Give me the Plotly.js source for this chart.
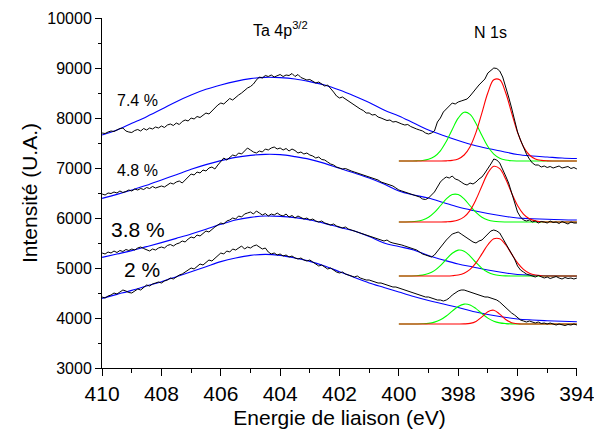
<!DOCTYPE html>
<html>
<head>
<meta charset="utf-8">
<script src="https://cdn.plot.ly/plotly-3.0.1.min.js"></script>
<style>html,body{margin:0;padding:0;background:#fff;}#chart{width:594px;height:435px;}</style>
</head>
<body>
<div id="chart"></div>
<script>
// Energy sampling grid of the measured spectra (410 -> 394 eV, 0.1 eV step)
const energy = [];
for (let i = 0; i <= 160; i++) energy.push(+(410 - 0.1 * i).toFixed(1));

// Measured spectra (black), one value per 0.1 eV
const spec74 = [
7700,7690,7720,7740,7730,7760,7790,7800,7740,7720,
7710,7750,7770,7740,7790,7760,7800,7780,7820,7800,
7840,7810,7860,7880,7850,7900,7870,7930,7960,7940,
8000,7980,8030,8010,8060,8100,8080,8150,8200,8260,
8300,8280,8340,8390,8360,8420,8460,8500,8560,8600,
8630,8680,8760,8820,8800,8850,8830,8860,8820,8840,
8870,8830,8860,8850,8890,8830,8870,8810,8790,8760,
8770,8730,8700,8720,8680,8640,8660,8600,8520,8440,
8400,8420,8380,8330,8300,8260,8220,8180,8150,8100,
8100,8060,8070,8020,8000,7980,7950,7960,7920,7930,
7900,7880,7860,7870,7830,7800,7780,7760,7740,7700,
7680,7700,7740,7920,8000,8120,8180,8240,8300,8280,
8320,8340,8360,8380,8440,8520,8600,8660,8720,8780,
8900,8960,9000,8990,8940,8820,8640,8420,8200,7960,
7720,7560,7400,7280,7180,7100,7060,7060,7020,7040,
7010,7030,7000,7020,7040,7000,7010,7030,6990,7010,
6980];
const spec48 = [
6480,6460,6500,6490,6520,6500,6540,6510,6530,6560,
6540,6580,6560,6590,6570,6610,6590,6630,6600,6620,
6640,6620,6660,6700,6680,6720,6740,6700,6760,6820,
6880,6860,6920,6900,6960,6940,7000,7020,6980,7060,
7120,7200,7160,7220,7260,7240,7300,7280,7340,7400,
7360,7320,7300,7340,7320,7380,7360,7400,7420,7380,
7400,7360,7390,7340,7380,7350,7300,7320,7280,7300,
7260,7240,7200,7220,7170,7160,7120,7080,7060,7020,
7000,6980,6990,6960,6940,6920,6900,6880,6860,6840,
6820,6800,6780,6760,6720,6700,6680,6660,6640,6600,
6560,6540,6520,6500,6480,6460,6440,6420,6380,6370,
6400,6460,6520,6620,6720,6780,6820,6800,6840,6780,
6760,6720,6680,6660,6700,6680,6720,6780,6820,6900,
6980,7080,7180,7160,7100,6980,6840,6700,6500,6280,
6120,6020,5960,5940,5960,5920,5940,5900,5930,5920,
5900,5940,5910,5920,5890,5930,5910,5880,5920,5900,
5900];
const spec38 = [
5300,5280,5320,5300,5340,5310,5350,5330,5370,5350,
5380,5360,5400,5420,5390,5370,5340,5380,5360,5400,
5420,5400,5450,5470,5440,5480,5500,5540,5520,5580,
5620,5600,5660,5640,5700,5740,5720,5780,5820,5860,
5900,5880,5940,5960,6000,5980,6040,6020,6080,6100,
6120,6080,6140,6100,6060,6090,6040,6080,6060,6100,
6060,6040,6080,6020,6050,6000,6040,6010,5980,6000,
5960,5980,5940,5920,5940,5900,5880,5860,5880,5840,
5820,5800,5820,5780,5760,5740,5720,5700,5680,5660,
5640,5620,5600,5580,5560,5540,5560,5520,5500,5490,
5480,5460,5440,5420,5400,5380,5360,5320,5280,5260,
5240,5220,5260,5340,5420,5500,5560,5620,5680,5700,
5720,5680,5640,5600,5560,5520,5500,5540,5560,5620,
5680,5740,5760,5740,5700,5600,5500,5400,5300,5180,
5040,4960,4920,4880,4860,4840,4820,4850,4820,4800,
4820,4790,4810,4830,4800,4780,4810,4790,4800,4780,
4800];
const spec20 = [
4420,4400,4440,4460,4500,4480,4520,4560,4540,4510,
4500,4540,4580,4560,4620,4660,4640,4680,4700,4720,
4700,4740,4760,4800,4780,4820,4860,4880,4920,4960,
5000,4980,5040,5080,5060,5120,5160,5140,5200,5240,
5300,5280,5340,5320,5380,5360,5400,5440,5380,5420,
5400,5440,5460,5420,5380,5400,5320,5280,5300,5260,
5280,5240,5260,5220,5240,5200,5180,5200,5160,5140,
5160,5120,5080,5040,5060,5020,4980,5000,4960,4920,
4900,4920,4880,4860,4840,4820,4840,4800,4780,4760,
4760,4740,4720,4700,4700,4680,4660,4640,4620,4620,
4600,4580,4560,4540,4520,4500,4480,4460,4440,4420,
4420,4400,4380,4360,4360,4340,4360,4400,4460,4500,
4540,4560,4560,4540,4520,4500,4480,4460,4440,4420,
4420,4400,4380,4360,4320,4260,4200,4140,4100,4060,
4000,3960,3940,3920,3940,3920,3900,3920,3890,3900,
3880,3900,3880,3860,3880,3870,3850,3870,3860,3880,
3860];

// Ta 4p3/2 fitted envelopes (blue), 0.5 eV step
const fitEnergy = [410,409.5,409,408.5,408,407.5,407,406.5,406,405.5,405,404.5,404,403.5,403,402.5,402,401.5,401,400.5,400,399.5,399,398.5,398,397.5,397,396.5,396,395.5,395,394.5,394];
const fit74 = [7660,7760,7893,8027,8173,8327,8460,8573,8660,8733,8787,8813,8807,8780,8727,8660,8560,8440,8310,8160,8040,7900,7760,7650,7550,7460,7390,7330,7270,7240,7220,7200,7190];
const fit48 = [6393,6473,6560,6653,6760,6867,6973,7067,7147,7213,7253,7273,7267,7227,7173,7093,6993,6900,6800,6680,6540,6460,6400,6310,6220,6150,6090,6040,6000,5985,5975,5965,5960];
const fit38 = [5213,5280,5347,5427,5507,5593,5680,5773,5873,5960,6013,6040,6033,6007,5960,5893,5813,5740,5630,5500,5430,5360,5250,5160,5080,5020,4960,4910,4870,4855,4845,4840,4838];
const fit20 = [4393,4473,4553,4640,4727,4827,4927,5027,5127,5200,5253,5273,5253,5200,5133,5040,4927,4810,4700,4610,4520,4430,4350,4280,4210,4130,4070,4020,3980,3960,3945,3935,3925];

// N 1s component peaks (green / red), 0.2 eV step
const peakEnergy = [400,399.8,399.6,399.4,399.2,399,398.8,398.6,398.4,398.2,398,397.8,397.6,397.4,397.2,397,396.8,396.6,396.4,396.2,396,395.8,395.6,395.4,395.2,395,394.8,394.6,394.4,394.2,394];
const green74 = [7140,7140,7141,7143,7150,7173,7230,7344,7532,7771,7996,8115,8073,7892,7649,7429,7278,7196,7159,7145,7141,7140,7140,7140,7140,7140,7140,7140,7140,7140,7140];
const red74   = [7140,7140,7140,7140,7140,7140,7140,7140,7143,7153,7182,7260,7426,7713,8104,8506,8764,8764,8506,8104,7713,7426,7260,7182,7153,7143,7140,7140,7140,7140,7140];
const green48 = [5920,5921,5924,5934,5961,6016,6113,6245,6381,6468,6468,6381,6245,6113,6016,5961,5934,5924,5921,5920,5920,5920,5920,5920,5920,5920,5920,5920,5920,5920,5920];
const red48   = [5920,5920,5920,5920,5920,5920,5920,5920,5923,5932,5958,6022,6153,6368,6641,6898,7034,6986,6779,6501,6250,6078,5984,5942,5926,5921,5920,5920,5920,5920,5920];
const green38 = [4840,4840,4841,4845,4858,4888,4948,5048,5175,5294,5357,5335,5239,5110,4993,4913,4869,4850,4843,4841,4840,4840,4840,4840,4840,4840,4840,4840,4840,4840,4840];
const red38   = [4840,4840,4840,4840,4840,4840,4840,4840,4841,4846,4859,4895,4971,5102,5282,5465,5584,5584,5465,5282,5102,4971,4895,4859,4846,4841,4840,4840,4840,4840,4840];
const green20 = [3880,3880,3880,3881,3884,3893,3917,3963,4040,4138,4229,4278,4261,4187,4088,3998,3936,3903,3888,3882,3880,3880,3880,3880,3880,3880,3880,3880,3880,3880,3880];
const red20   = [3880,3880,3880,3880,3880,3880,3880,3880,3880,3880,3880,3882,3892,3932,4022,4127,4156,4078,3971,3907,3885,3881,3880,3880,3880,3880,3880,3880,3880,3880,3880];

// Labels
const seriesLabels = ['7.4 %', '4.8 %', '3.8 %', '2 %'];
const labelX = [408.8, 408.8, 408.8, 408.65];
const labelY = [8360, 6960, 5780, 4980];
const labelSize = [16, 16, 21, 21];
const xTickVals = [410,408,406,404,402,400,398,396,394];
const yTickVals = [3000,4000,5000,6000,7000,8000,9000,10000];

const FONT = 'Liberation Sans, Arial, sans-serif';
const traces = [];
const specs = [spec74, spec48, spec38, spec20];
const fits = [fit74, fit48, fit38, fit20];
const greens = [green74, green48, green38, green20];
const reds = [red74, red48, red38, red20];
for (let k = 0; k < 4; k++) {
  traces.push({x: fitEnergy, y: fits[k], mode: 'lines', line: {color: '#0000ff', width: 1.1, shape: 'spline'}, hoverinfo: 'skip'});
  traces.push({x: peakEnergy, y: greens[k], mode: 'lines', line: {color: '#00ff00', width: 1.1, shape: 'spline'}, hoverinfo: 'skip'});
  traces.push({x: peakEnergy, y: reds[k], mode: 'lines', line: {color: '#ff0000', width: 1.1, shape: 'spline'}, hoverinfo: 'skip'});
  traces.push({x: energy, y: specs[k], mode: 'lines', line: {color: '#000000', width: 1}, hoverinfo: 'skip'});
}

const annotations = seriesLabels.map((t, i) => ({
  x: labelX[i], y: labelY[i], text: t, showarrow: false, xanchor: 'center', yanchor: 'middle',
  font: {family: FONT, size: labelSize[i], color: '#000'}
}));
annotations.push({x: 404.0, y: 9790, text: 'Ta 4p<sup>3/2</sup>', showarrow: false, xanchor: 'center', yanchor: 'middle', font: {family: FONT, size: 16, color: '#000'}});
annotations.push({x: 396.9, y: 9720, text: 'N 1s', showarrow: false, xanchor: 'center', yanchor: 'middle', font: {family: FONT, size: 16, color: '#000'}});

const layout = {
  width: 594, height: 435,
  margin: {l: 102, r: 17, t: 18, b: 67, pad: 0},
  paper_bgcolor: '#fff', plot_bgcolor: '#fff',
  showlegend: false,
  font: {family: FONT, color: '#000'},
  xaxis: {
    range: [410.004, 393.996], tickvals: xTickVals, ticktext: xTickVals.map(String),
    showgrid: false, zeroline: false, showline: true, linecolor: '#000', linewidth: 1,
    ticks: 'outside', ticklen: 7, tickcolor: '#000', tickwidth: 1,
    ticklabeloverflow: 'allow',
    tickfont: {family: FONT, size: 21, color: '#000'},
    minor: {dtick: 1, tick0: 0, ticks: 'outside', ticklen: 4, tickcolor: '#000', showgrid: false},
    title: {text: 'Energie de liaison (eV)', font: {family: FONT, size: 21, color: '#000'}, standoff: 6}
  },
  yaxis: {
    range: [3000, 10000], tickvals: yTickVals, ticktext: yTickVals.map(String),
    showgrid: false, zeroline: false, showline: true, linecolor: '#000', linewidth: 1,
    ticks: 'outside', ticklen: 6, tickcolor: '#000', tickwidth: 1,
    ticklabeloverflow: 'allow',
    tickfont: {family: FONT, size: 16, color: '#000'},
    minor: {dtick: 500, tick0: 0, ticks: 'outside', ticklen: 3, tickcolor: '#000', showgrid: false},
    title: {text: 'Intensité (U.A.)', font: {family: FONT, size: 21, color: '#000'}, standoff: 3}
  },
  annotations: annotations
};

Plotly.newPlot('chart', traces, layout, {staticPlot: true, displayModeBar: false});
</script>
</body>
</html>
